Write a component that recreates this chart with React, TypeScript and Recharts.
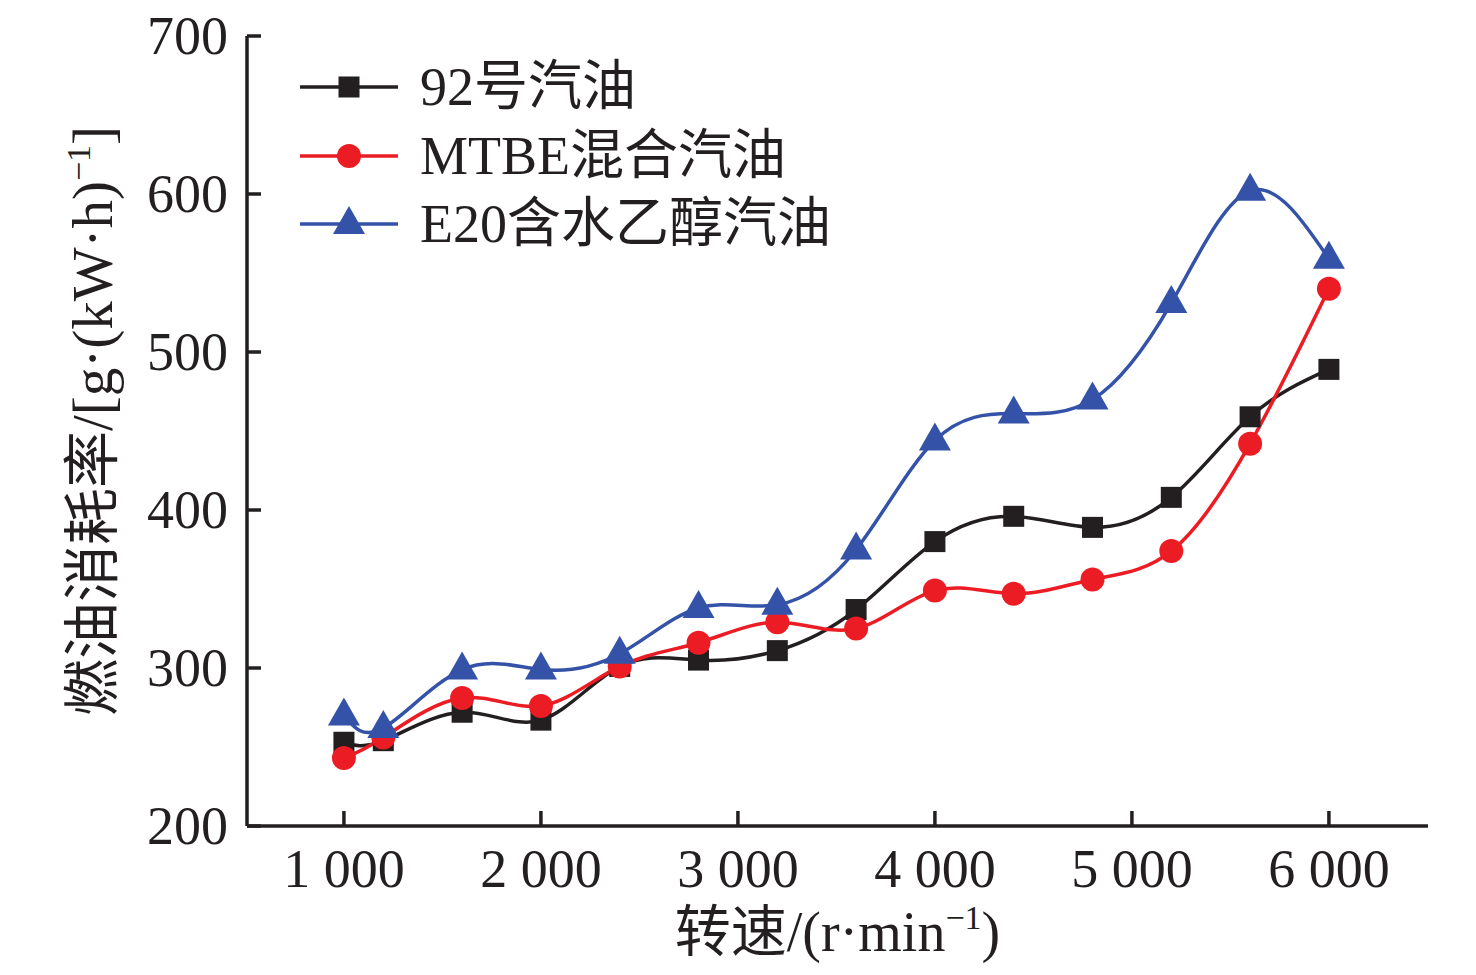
import React from "react";
import { LineChart, Line, XAxis, YAxis, Legend, Label } from "recharts";

// engine speed, r/min
const rpm = [1000, 1200, 1600, 2000, 2400, 2800, 3200, 3600, 4000, 4400, 4800, 5200, 5600, 6000];

// fuel consumption rate, g/(kW·h)
const gas92 = [253, 254, 272, 267, 301, 305, 311, 337, 380, 396, 389, 408, 459, 489];
const mtbe = [243, 256, 281, 276, 301, 316, 329, 325, 349, 347, 356, 374, 442, 540];
const e20 = [270, 262, 299, 299, 309, 338, 340, 375, 444, 461, 470, 531, 602, 559];

const xTicks = [1000, 2000, 3000, 4000, 5000, 6000];
const yTicks = [200, 300, 400, 500, 600, 700];

const seriesNames = ["92号汽油", "MTBE混合汽油", "E20含水乙醇汽油"];

const AXIS = "#231f20";
const FONT = '"Liberation Serif", "Times New Roman", "Noto Sans CJK SC", serif';

type Shape = "square" | "circle" | "triangle";

const series: { key: string; name: string; color: string; shape: Shape }[] = [
  { key: "gas92", name: seriesNames[0], color: "#231f20", shape: "square" },
  { key: "mtbe", name: seriesNames[1], color: "#ec1c24", shape: "circle" },
  { key: "e20", name: seriesNames[2], color: "#3453a8", shape: "triangle" },
];

const data = rpm.map((r, i) => ({
  rpm: r,
  gas92: gas92[i],
  mtbe: mtbe[i],
  e20: e20[i],
}));

function Marker({ shape, cx, cy, color }: { shape: Shape; cx: number; cy: number; color: string }) {
  if (shape === "square") {
    return <rect x={cx - 10.5} y={cy - 10.5} width={21} height={21} fill={color} />;
  }
  if (shape === "circle") {
    return <circle cx={cx} cy={cy} r={12} fill={color} />;
  }
  return (
    <polygon
      points={`${cx},${cy - 18} ${cx - 16},${cy + 10} ${cx + 16},${cy + 10}`}
      fill={color}
    />
  );
}

function fmtRpm(v: number) {
  return `${Math.floor(v / 1000)} ${String(v % 1000).padStart(3, "0")}`;
}

const XTick = (props: any) => {
  const { x, y, payload } = props;
  return (
    <g>
      <line x1={x} x2={x} y1={y} y2={y - 15} stroke={AXIS} strokeWidth={3.5} />
      <text x={x} y={y + 61} textAnchor="middle" fontSize={54} fill={AXIS} fontFamily={FONT}>
        {fmtRpm(payload.value)}
      </text>
    </g>
  );
};

const YTick = (props: any) => {
  const { x, y, payload } = props;
  return (
    <g>
      <line x1={x} x2={x + 14} y1={y} y2={y} stroke={AXIS} strokeWidth={3.5} />
      <text x={x - 19} y={y + 18} textAnchor="end" fontSize={54} fill={AXIS} fontFamily={FONT}>
        {payload.value}
      </text>
    </g>
  );
};

const XTitle = (props: any) => {
  const { viewBox } = props;
  const cx = viewBox.x + viewBox.width / 2;
  const y = viewBox.y + 125;
  return (
    <text x={cx} y={y} textAnchor="middle" fontSize={56} fill={AXIS} fontFamily={FONT}>
      <tspan>转速/(r·min</tspan>
      <tspan fontSize={34} dy={-22}>−1</tspan>
      <tspan dy={22}>)</tspan>
    </text>
  );
};

const YTitle = (props: any) => {
  const { viewBox } = props;
  const cy = viewBox.y + viewBox.height / 2 - 10;
  const x = 104;
  return (
    <text
      x={x}
      y={cy}
      textAnchor="middle"
      fontSize={57}
      fill={AXIS}
      fontFamily={FONT}
      transform={`rotate(-90, ${x}, ${cy})`}
    >
      <tspan>燃油消耗率/[g·(kW·h)</tspan>
      <tspan fontSize={34} dy={-22}>−1</tspan>
      <tspan dy={22}>]</tspan>
    </text>
  );
};

// legend keeps the series order, not the sorted payload order
const LegendBox = () => (
  <div style={{ fontFamily: FONT, color: AXIS }}>
    {series.map((s) => (
      <div key={s.key} style={{ display: "flex", alignItems: "center", height: 68.5 }}>
        <svg width={100} height={68} style={{ display: "block" }}>
          <line x1={0} x2={98} y1={34} y2={34} stroke={s.color} strokeWidth={3.5} />
          <Marker shape={s.shape} cx={49} cy={34} color={s.color} />
        </svg>
        <span style={{ marginLeft: 20, fontSize: 54, lineHeight: "68px", whiteSpace: "nowrap" }}>
          {s.name}
        </span>
      </div>
    ))}
  </div>
);

const TOP = 36;

export default function App() {
  return (
    <div style={{ width: 1468, height: 968, marginTop: -8 }}>
      <LineChart
        width={1468}
        height={968}
        data={data}
        margin={{ top: TOP, right: 48, left: 0, bottom: 0 }}
      >
        <XAxis
          dataKey="rpm"
          type="number"
          domain={[508, 6503]}
          ticks={xTicks}
          height={142}
          tickSize={0}
          tickMargin={0}
          tickLine={false}
          tick={<XTick />}
          axisLine={{ stroke: AXIS, strokeWidth: 3.5 }}
          interval={0}
        >
          <Label content={<XTitle />} />
        </XAxis>
        <XAxis
          xAxisId="top"
          orientation="top"
          dataKey="rpm"
          type="number"
          domain={[508, 6503]}
          height={0}
          tick={false}
          tickLine={false}
          axisLine={{ stroke: AXIS, strokeWidth: 3.5 }}
        />
        <YAxis
          type="number"
          domain={[200, 700]}
          ticks={yTicks}
          width={239}
          tickSize={0}
          tickMargin={0}
          tickLine={false}
          tick={<YTick />}
          axisLine={{ stroke: AXIS, strokeWidth: 3.5 }}
          interval={0}
        >
          <Label content={<YTitle />} />
        </YAxis>
        <YAxis
          yAxisId="right"
          orientation="right"
          type="number"
          domain={[200, 700]}
          width={0}
          tick={false}
          tickLine={false}
          axisLine={{ stroke: AXIS, strokeWidth: 3.5 }}
        />
        <Legend
          layout="vertical"
          align="center"
          verticalAlign="middle"
          content={<LegendBox />}
          wrapperStyle={{ left: 292, top: 53, width: 700 }}
        />
        {series.map((s) => (
          <Line
            key={s.key}
            type="natural"
            dataKey={s.key}
            name={s.name}
            stroke={s.color}
            strokeWidth={3.5}
            isAnimationActive={false}
            dot={(p: any) => (
              <Marker key={`${s.key}-${p.index}`} shape={s.shape} cx={p.cx} cy={p.cy} color={s.color} />
            )}
            activeDot={false}
          />
        ))}
      </LineChart>
    </div>
  );
}
